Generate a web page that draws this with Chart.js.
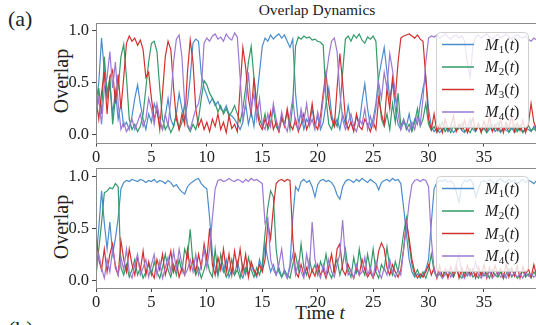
<!DOCTYPE html>
<html>
<head>
<meta charset="utf-8">
<title>Overlap Dynamics</title>
<script src="https://cdn.jsdelivr.net/npm/chart.js@4.4.1/dist/chart.umd.min.js"></script>
<style>
  html, body { margin: 0; padding: 0; background: #fff; }
  body {
    width: 536px; height: 325px; overflow: hidden; position: relative;
    font-family: "Liberation Serif", "DejaVu Serif", serif; color: #222;
  }
  .panel { position: absolute; left: 0; width: 560px; }
  .lbl { position: absolute; white-space: nowrap; text-align: center; }
  .tag { font-size: 22px; line-height: 22px; text-align: left; }
  .title { left: 217px; width: 200px; top: 1px; font-size: 15.5px; line-height: 18px; }
  .ylab { width: 100px; height: 22px; line-height: 22px; font-size: 20px; transform: rotate(-90deg); }
  .xlab { left: 270px; top: 302px; width: 100px; height: 22px; line-height: 22px; font-size: 19px; }
</style>
</head>
<body>
<div class="lbl tag" style="left:8px; top:8px">(a)</div>
<div class="lbl title">Overlap Dynamics</div>
<div class="lbl ylab" style="left:11px; top:70px">Overlap</div>
<div class="lbl ylab" style="left:11px; top:216px">Overlap</div>
<div class="lbl xlab">Time <i>t</i></div>
<div class="lbl tag" style="left:8px; top:318px">(b)</div>

<div class="panel" style="top:0; height:170px"><canvas id="chartA" width="560" height="170"></canvas></div>
<div class="panel" style="top:150px; height:175px"><canvas id="chartB" width="560" height="175"></canvas></div>

<script>
/* =========================
   Data (step 0.25 in t)
========================= */
const times = Array.from({ length: 161 }, (_, i) => i * 0.25);
const xTickValues = [0, 5, 10, 15, 20, 25, 30, 35];
const yTickValues = [0, 0.5, 1.0];
const seriesNames = ["M1(t)", "M2(t)", "M3(t)", "M4(t)"];

// panel (a)
const aM1 = [
  .30,.50,.93,.62,.35,.48,.20,.42,.15,.30,.08,.12,.05,.18,.35,.48,.30,.15,.05,.20,
  .12,.30,.22,.10,.05,.18,.35,.15,.08,.20,.40,.25,.15,.30,.55,.88,.92,.90,.58,.45,
  .38,.30,.35,.28,.32,.25,.22,.28,.20,.18,.15,.10,.05,.12,.30,.10,.22,.08,.35,.60,
  .85,.93,.90,.96,.92,.95,.97,.93,.96,.90,.84,.92,.40,.12,.20,.05,.15,.10,.25,.08,
  .18,.05,.12,.30,.45,.20,.08,.15,.05,.20,.10,.28,.12,.05,.18,.10,.32,.49,.25,.08,
  .15,.30,.55,.70,.84,.60,.35,.50,.25,.10,.05,.12,.08,.20,.05,.15,.10,.30,.45,.55,
  .25,.08,.03,.06,.02,.05,.08,.03,.06,.02,.05,.09,.04,.02,.07,.15,.05,.03,.08,.04,
  .06,.02,.05,.10,.03,.06,.02,.08,.04,.03,.07,.02,.05,.09,.03,.06,.05,.03,.08,.04,
  .06
];
const aM2 = [
  .15,.45,.20,.75,.40,.55,.10,.35,.45,.75,.87,.55,.15,.05,.10,.03,.08,.20,.45,.70,
  .88,.90,.80,.45,.15,.05,.10,.02,.08,.20,.05,.12,.30,.08,.03,.10,.05,.15,.35,.52,
  .48,.40,.35,.30,.22,.28,.20,.25,.18,.22,.28,.20,.12,.25,.45,.70,.85,.55,.30,.15,
  .08,.20,.05,.12,.25,.08,.03,.15,.10,.22,.05,.30,.85,.94,.92,.95,.93,.94,.91,.92,
  .90,.89,.86,.35,.10,.05,.15,.08,.25,.60,.92,.95,.90,.96,.93,.97,.91,.88,.94,.92,
  .95,.90,.45,.15,.08,.20,.05,.30,.12,.40,.08,.15,.05,.10,.03,.12,.25,.08,.15,.30,
  .10,.04,.08,.02,.06,.12,.03,.07,.02,.09,.04,.06,.11,.03,.05,.02,.08,.04,.10,.03,
  .07,.02,.09,.04,.06,.12,.03,.05,.08,.02,.06,.10,.03,.07,.02,.05,.09,.04,.06,.03,
  .05
];
const aM3 = [
  .35,.15,.40,.60,.20,.55,.62,.30,.58,.25,.55,.88,.95,.90,.93,.86,.91,.82,.55,.60,
  .35,.15,.25,.05,.40,.75,.90,.82,.45,.15,.05,.20,.10,.60,.91,.70,.25,.08,.15,.05,
  .12,.03,.15,.08,.20,.05,.12,.02,.18,.06,.10,.03,.45,.84,.65,.35,.20,.55,.25,.10,
  .05,.15,.08,.22,.05,.12,.03,.18,.08,.25,.10,.05,.15,.03,.10,.20,.05,.12,.30,.10,
  .05,.18,.40,.60,.30,.15,.08,.45,.78,.50,.15,.05,.12,.03,.20,.08,.05,.15,.10,.03,
  .12,.05,.35,.20,.10,.45,.25,.55,.35,.70,.93,.95,.96,.97,.95,.93,.96,.92,.90,.55,
  .15,.05,.20,.03,.10,.02,.15,.05,.08,.18,.03,.10,.05,.14,.02,.09,.16,.04,.11,.02,
  .13,.05,.17,.03,.10,.04,.15,.02,.12,.06,.18,.03,.11,.04,.14,.02,.10,.30,.12,.05,
  .08
];
const aM4 = [
  .20,.35,.10,.45,.55,.80,.45,.70,.30,.05,.12,.03,.08,.15,.05,.12,.20,.08,.15,.35,
  .25,.10,.30,.15,.05,.20,.08,.35,.70,.92,.96,.75,.30,.10,.05,.15,.25,.30,.45,.88,
  .93,.90,.95,.97,.92,.94,.90,.97,.93,.91,.98,.94,.55,.15,.30,.60,.25,.40,.15,.35,
  .10,.05,.20,.08,.30,.15,.05,.22,.10,.03,.18,.35,.10,.05,.25,.12,.30,.08,.15,.05,
  .22,.10,.35,.55,.75,.90,.93,.80,.40,.15,.05,.12,.20,.08,.03,.15,.10,.25,.05,.18,
  .08,.25,.50,.35,.60,.45,.78,.62,.40,.20,.05,.15,.08,.03,.12,.05,.18,.10,.35,.70,
  .93,.95,.94,.96,.93,.95,.97,.94,.92,.95,.96,.93,.95,.90,.70,.55,.85,.94,.96,.93,
  .95,.97,.94,.92,.95,.96,.93,.95,.97,.94,.92,.95,.96,.94,.93,.95,.92,.90,.93,.91,
  .92
];

// panel (b)
const bM1 = [
  .20,.50,.86,.55,.30,.56,.25,.40,.60,.88,.94,.96,.95,.97,.96,.95,.97,.96,.94,.96,
  .95,.97,.94,.96,.95,.93,.96,.94,.90,.92,.88,.85,.83,.90,.93,.95,.97,.98,.93,.90,
  .88,.60,.25,.12,.05,.15,.08,.20,.03,.10,.05,.18,.07,.02,.12,.05,.15,.08,.03,.20,
  .10,.35,.20,.08,.15,.05,.12,.03,.08,.02,.15,.60,.90,.86,.95,.97,.94,.96,.90,.80,
  .92,.96,.97,.95,.96,.94,.90,.82,.78,.90,.95,.97,.96,.94,.97,.95,.98,.96,.94,.97,
  .95,.93,.87,.94,.96,.97,.95,.98,.96,.97,.93,.70,.45,.20,.08,.03,.06,.02,.05,.10,
  .20,.55,.88,.94,.96,.95,.97,.94,.96,.93,.85,.75,.92,.96,.95,.97,.94,.80,.88,.95,
  .96,.94,.97,.95,.93,.96,.98,.95,.94,.97,.95,.96,.93,.95,.97,.94,.96,.95,.93,.96,
  .95
];
const bM2 = [
  .10,.30,.55,.84,.86,.89,.88,.93,.90,.12,.05,.15,.03,.10,.20,.05,.12,.02,.08,.15,
  .05,.18,.08,.02,.12,.25,.10,.03,.15,.05,.20,.08,.30,.22,.49,.15,.05,.12,.02,.10,
  .20,.08,.03,.30,.05,.25,.12,.03,.08,.20,.05,.10,.02,.15,.06,.22,.10,.03,.12,.05,
  .15,.45,.70,.86,.80,.30,.08,.03,.10,.05,.02,.15,.25,.10,.35,.12,.05,.20,.08,.15,
  .05,.18,.10,.25,.08,.02,.12,.20,.05,.15,.30,.10,.03,.22,.08,.30,.12,.05,.25,.10,
  .30,.08,.02,.15,.10,.32,.12,.05,.18,.08,.25,.45,.60,.35,.15,.05,.10,.03,.08,.02,
  .10,.25,.08,.03,.06,.02,.09,.04,.07,.03,.10,.05,.02,.08,.04,.11,.03,.06,.02,.09,
  .04,.07,.02,.10,.05,.03,.08,.02,.06,.11,.03,.07,.02,.05,.09,.03,.06,.02,.08,.04,
  .05
];
const bM3 = [
  .45,.20,.10,.30,.08,.25,.35,.12,.05,.38,.20,.08,.30,.15,.05,.22,.10,.28,.05,.18,
  .08,.02,.20,.10,.25,.05,.15,.28,.08,.18,.03,.12,.05,.30,.10,.20,.08,.25,.12,.35,
  .20,.50,.15,.05,.22,.10,.30,.08,.25,.05,.28,.12,.30,.08,.25,.03,.18,.10,.05,.15,
  .08,.20,.55,.40,.70,.93,.96,.97,.95,.97,.96,.40,.08,.03,.15,.05,.12,.02,.10,.04,
  .15,.05,.10,.02,.12,.25,.08,.30,.35,.10,.05,.15,.08,.02,.12,.05,.20,.10,.03,.08,
  .02,.10,.28,.36,.30,.12,.05,.15,.08,.03,.10,.30,.56,.40,.20,.08,.02,.06,.03,.08,
  .15,.05,.12,.02,.14,.03,.11,.02,.13,.04,.15,.02,.12,.03,.14,.05,.11,.02,.13,.04,
  .15,.02,.12,.03,.14,.05,.11,.02,.16,.03,.12,.04,.14,.02,.13,.05,.11,.03,.15,.04,
  .10
];
const bM4 = [
  .05,.25,.12,.02,.20,.08,.30,.15,.05,.22,.10,.30,.08,.02,.15,.25,.05,.12,.20,.03,
  .15,.25,.05,.18,.02,.12,.22,.08,.28,.10,.30,.15,.05,.10,.20,.08,.25,.05,.15,.30,
  .12,.30,.60,.88,.96,.97,.95,.96,.98,.96,.95,.97,.96,.94,.97,.95,.98,.96,.97,.95,
  .93,.55,.60,.20,.10,.05,.15,.30,.08,.02,.12,.25,.05,.18,.08,.02,.25,.10,.56,.20,
  .08,.02,.15,.05,.20,.08,.03,.15,.25,.58,.20,.05,.10,.02,.15,.05,.08,.22,.05,.12,
  .03,.18,.08,.02,.12,.05,.20,.08,.03,.10,.05,.30,.50,.75,.92,.96,.97,.95,.97,.96,
  .90,.40,.10,.03,.08,.02,.05,.10,.03,.07,.15,.25,.05,.02,.08,.04,.06,.18,.05,.02,
  .07,.03,.09,.02,.05,.08,.03,.06,.02,.09,.04,.07,.03,.06,.02,.08,.04,.06,.03,.05,
  .04
];

const COLORS = ["#4a8ccc", "#339a68", "#d3302f", "#9d78d2"];
const FONT = '"Liberation Serif", "DejaVu Serif", serif';

/* =========================
   Plugins: frame + legend
========================= */
const framePlugin = {
  id: "frame",
  afterDraw(chart) {
    const { ctx, chartArea: a } = chart;
    ctx.save();
    ctx.strokeStyle = "#8a8a8a";
    ctx.lineWidth = 1;
    ctx.strokeRect(Math.round(a.left) + 0.5, Math.round(a.top) + 0.5,
      Math.round(a.right - a.left), Math.round(a.bottom - a.top));
    ctx.restore();
  }
};

const legendPlugin = {
  id: "mLegend",
  afterDatasetsDraw(chart, args, opts) {
    const { ctx, chartArea } = chart;
    const x = opts.left, y = Math.round(chartArea.top + opts.offsetTop);
    ctx.save();
    ctx.beginPath();
    ctx.roundRect(x + 0.5, y + 0.5, opts.width, opts.height, 4);
    ctx.fillStyle = "rgba(255,255,255,0.8)";
    ctx.fill();
    ctx.strokeStyle = "#cfcfcf";
    ctx.lineWidth = 1;
    ctx.stroke();

    chart.data.datasets.forEach((ds, i) => {
      const cy = y + 12.5 + i * 22.5;
      ctx.strokeStyle = ds.borderColor;
      ctx.lineWidth = 1.5;
      ctx.beginPath();
      ctx.moveTo(x + 6, cy);
      ctx.lineTo(x + 38, cy);
      ctx.stroke();

      // M_i(t)
      let tx = x + 49;
      ctx.fillStyle = "#222";
      ctx.textBaseline = "alphabetic";
      const base = cy + 5;
      const parts = [
        ["italic 16px " + FONT, "M", 0],
        ["11px " + FONT, String(i + 1), 3],
        ["16px " + FONT, "(", 0],
        ["italic 16px " + FONT, "t", 0],
        ["16px " + FONT, ")", 0],
      ];
      parts.forEach(([font, txt, dy]) => {
        ctx.font = font;
        ctx.fillText(txt, tx, base + dy);
        tx += ctx.measureText(txt).width + (txt === "M" ? 0.5 : 0);
      });
    });
    ctx.restore();
  }
};

/* =========================
   Build one panel
========================= */
function buildPanel(canvasId, series, cfg) {
  const datasets = series.map((vals, i) => ({
    label: seriesNames[i],
    data: vals.map((v, k) => ({ x: times[k], y: v })),
    borderColor: COLORS[i],
    borderWidth: 1.2,
    pointRadius: 0,
    tension: 0,
    order: 4 - i, // M4 on top, like matplotlib
  }));

  return new Chart(document.getElementById(canvasId), {
    type: "line",
    data: { datasets },
    plugins: [framePlugin, legendPlugin],
    options: {
      responsive: false,
      animation: false,
      devicePixelRatio: 1,
      layout: { padding: { left: 0, right: 20.6, top: cfg.padTop, bottom: 0 } },
      plugins: {
        legend: { display: false },
        tooltip: { enabled: false },
        mLegend: { left: 436, offsetTop: cfg.legendTop, width: 92, height: 95 },
      },
      scales: {
        x: {
          type: "linear",
          min: 0, max: 40,
          border: { display: false },
          grid: { drawOnChartArea: false, drawTicks: true, tickLength: 4, color: "#444" },
          ticks: { font: { family: FONT, size: 16.5 }, color: "#222", padding: 1, maxRotation: 0, autoSkip: false },
          afterBuildTicks: s => { s.ticks = xTickValues.map(v => ({ value: v })); },
          afterFit: s => { s.height = cfg.xAxisH; },
        },
        y: {
          min: -0.075, max: 1.08,
          border: { display: false },
          grid: { drawOnChartArea: false, drawTicks: true, tickLength: 4, color: "#444" },
          ticks: {
            font: { family: FONT, size: 16.5 }, color: "#222", padding: 3,
            callback: v => v.toFixed(1),
          },
          afterBuildTicks: s => { s.ticks = yTickValues.map(v => ({ value: v })); },
          afterFit: s => { s.width = 96; },
        },
      },
    },
  });
}

buildPanel("chartA", [aM1, aM2, aM3, aM4], { padTop: 22.5, xAxisH: 27.5, legendTop: 9.5 });
buildPanel("chartB", [bM1, bM2, bM3, bM4], { padTop: 18, xAxisH: 37, legendTop: 8 });
</script>
</body>
</html>
